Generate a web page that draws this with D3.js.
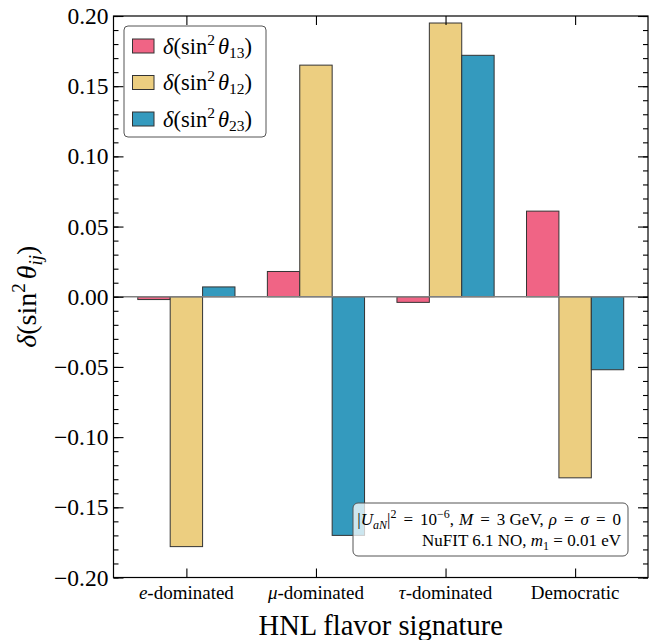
<!DOCTYPE html>
<html>
<head>
<meta charset="utf-8">
<script src="https://cdn.jsdelivr.net/npm/d3@7"></script>
<style>
  body { margin: 0; background: #fff; }
  svg { display: block; font-family: "Liberation Serif", "DejaVu Serif", serif; }
</style>
</head>
<body>
<div id="chart"></div>
<script>
// categories and series values
const categories = ["e-dominated", "μ-dominated", "τ-dominated", "Democratic"];
const sin13 = [-0.002, 0.018, -0.004, 0.061];
const sin12 = [-0.178, 0.165, 0.195, -0.129];
const sin23 = [0.007, -0.170, 0.172, -0.052];
const seriesNames = ["13", "12", "23"];
const seriesColors = ["#F06485", "#ECCE80", "#349ABE"];
const yTicks = [-0.20, -0.15, -0.10, -0.05, 0.00, 0.05, 0.10, 0.15, 0.20];

const width = 652, height = 640;
const plotLeft = 113.5, plotRight = 648, plotTop = 16, plotBottom = 577.5;
const barWidth = 0.25;

const svg = d3.select("#chart").append("svg")
    .attr("width", width)
    .attr("height", height);

const x = d3.scaleLinear().domain([-0.5625, 3.5625]).range([plotLeft, plotRight]);
const y = d3.scaleLinear().domain([-0.2, 0.2]).range([plotBottom, plotTop]);

const series = [sin13, sin12, sin23];

// bars
series.forEach((vals, s) => {
    svg.append("g").selectAll("rect")
        .data(vals)
        .enter().append("rect")
        .attr("x", (d, i) => x(i + (s - 1) * barWidth - barWidth / 2))
        .attr("width", x(barWidth) - x(0))
        .attr("y", d => y(Math.max(0, d)))
        .attr("height", d => Math.abs(y(d) - y(0)))
        .attr("fill", seriesColors[s])
        .attr("stroke", "#333")
        .attr("stroke-width", 1);
});

// zero line
svg.append("line")
    .attr("x1", plotLeft).attr("x2", plotRight)
    .attr("y1", y(0)).attr("y2", y(0))
    .attr("stroke", "#808080")
    .attr("stroke-width", 1.6);

// axes with inward ticks
const fmt = d => (d < 0 ? "\u2212" : "") + Math.abs(d).toFixed(2);
const minor = d3.range(-20, 21).map(v => v / 100);

svg.append("g")
    .attr("transform", `translate(${plotLeft},0)`)
    .call(d3.axisLeft(y).tickValues(minor).tickSize(-5).tickFormat(""))
    .call(g => g.select(".domain").remove());
svg.append("g")
    .attr("transform", `translate(${plotLeft},0)`)
    .call(d3.axisLeft(y).tickValues(yTicks).tickSize(-10).tickPadding(5).tickFormat(fmt))
    .call(g => g.select(".domain").remove())
    .call(g => g.selectAll("text").attr("font-size", 23.5).attr("fill", "#000")
        .attr("font-family", "Liberation Serif, serif"));
svg.append("g")
    .attr("transform", `translate(${plotRight},0)`)
    .call(d3.axisRight(y).tickValues(minor).tickSize(-5).tickFormat(""))
    .call(g => g.select(".domain").remove());
svg.append("g")
    .attr("transform", `translate(${plotRight},0)`)
    .call(d3.axisRight(y).tickValues(yTicks).tickSize(-10).tickFormat(""))
    .call(g => g.select(".domain").remove());

const catIdx = categories.map((c, i) => i);
svg.append("g")
    .attr("transform", `translate(0,${plotBottom})`)
    .call(d3.axisBottom(x).tickValues(catIdx).tickSize(-9).tickFormat(""))
    .call(g => g.select(".domain").remove());
svg.append("g")
    .attr("transform", `translate(0,${plotTop})`)
    .call(d3.axisTop(x).tickValues(catIdx).tickSize(-9).tickFormat(""))
    .call(g => g.select(".domain").remove());
svg.selectAll(".tick line").attr("stroke", "#000").attr("stroke-width", 1.1);

// frame
svg.append("rect")
    .attr("x", plotLeft).attr("y", plotTop)
    .attr("width", plotRight - plotLeft).attr("height", plotBottom - plotTop)
    .attr("fill", "none").attr("stroke", "#000").attr("stroke-width", 1.2);

// category labels, leading greek/latin letter in italics
categories.forEach((c, i) => {
    const t = svg.append("text")
        .attr("x", x(i)).attr("y", 599)
        .attr("text-anchor", "middle")
        .attr("font-size", 19);
    const m = c.match(/^(e|μ|τ)(-.*)$/);
    if (m) {
        t.append("tspan").attr("font-style", "italic").text(m[1]);
        t.append("tspan").text(m[2]);
    } else {
        t.text(c);
    }
});

// axis titles
svg.append("text")
    .attr("x", (plotLeft + plotRight) / 2).attr("y", 635)
    .attr("text-anchor", "middle")
    .attr("font-size", 28.5)
    .text("HNL flavor signature");

const yl = svg.append("text")
    .attr("transform", `translate(36,${(plotTop + plotBottom) / 2}) rotate(-90)`)
    .attr("text-anchor", "middle")
    .attr("font-size", 28);
yl.append("tspan").attr("font-style", "italic").text("δ");
yl.append("tspan").text("(sin");
yl.append("tspan").attr("font-size", 19).attr("dy", -11).text("2");
yl.append("tspan").attr("font-style", "italic").attr("dy", 11).attr("dx", 4).text("θ");
yl.append("tspan").attr("font-style", "italic").attr("font-size", 19).attr("dy", 6).text("ij");
yl.append("tspan").attr("dy", -6).text(")");

// legend
const lg = svg.append("g");
lg.append("rect")
    .attr("x", 124).attr("y", 26).attr("width", 142).attr("height", 111)
    .attr("rx", 4)
    .attr("fill", "#fff").attr("fill-opacity", 0.8)
    .attr("stroke", "#555").attr("stroke-width", 1);
seriesNames.forEach((n, s) => {
    const cy = 46 + s * 36.5;
    lg.append("rect")
        .attr("x", 132.5).attr("y", cy - 7).attr("width", 21.5).attr("height", 14)
        .attr("fill", seriesColors[s]).attr("stroke", "#333").attr("stroke-width", 1);
    const t = lg.append("text")
        .attr("x", 163).attr("y", cy + 7.5)
        .attr("font-size", 22.5);
    t.append("tspan").attr("font-style", "italic").text("δ");
    t.append("tspan").text("(sin");
    t.append("tspan").attr("font-size", 15.5).attr("dy", -9).text("2");
    t.append("tspan").attr("font-style", "italic").attr("dy", 9).attr("dx", 3).text("θ");
    t.append("tspan").attr("font-size", 15.5).attr("dy", 4).text(n);
    t.append("tspan").attr("dy", -4).text(")");
});

// annotation box
const an = svg.append("g");
an.append("rect")
    .attr("x", 353).attr("y", 503).attr("width", 275).attr("height", 53)
    .attr("rx", 5)
    .attr("fill", "#fff").attr("fill-opacity", 0.75)
    .attr("stroke", "#555").attr("stroke-width", 1);

// segments: [text, italic, size, dy, dx]
const line1 = [
    ["|", 0, 17, 0, 0], ["U", 1, 17, 0, 0], ["aN", 1, 12, 4, 0], ["|", 0, 17, -4, 0],
    ["2", 0, 12, -7, 0], ["=", 0, 17, 7, 7], ["10", 0, 17, 0, 7], ["\u22126", 0, 12, -7, 0],
    [",", 0, 17, 7, 0], ["M", 1, 17, 0, 5], ["=", 0, 17, 0, 7], ["3 GeV,", 0, 17, 0, 7],
    ["ρ", 1, 17, 0, 5], ["=", 0, 17, 0, 7], ["σ", 1, 17, 0, 7], ["=", 0, 17, 0, 7],
    ["0", 0, 17, 0, 7]
];
const a1 = an.append("text")
    .attr("x", 621).attr("y", 525)
    .attr("text-anchor", "end");
line1.forEach(s => {
    a1.append("tspan")
        .attr("font-style", s[1] ? "italic" : "normal")
        .attr("font-size", s[2])
        .attr("dy", s[3]).attr("dx", s[4])
        .text(s[0]);
});

const a2 = an.append("text")
    .attr("x", 621).attr("y", 546)
    .attr("text-anchor", "end")
    .attr("font-size", 17);
a2.append("tspan").text("NuFIT 6.1 NO, ");
a2.append("tspan").attr("font-style", "italic").text("m");
a2.append("tspan").attr("font-size", 12).attr("dy", 4).text("1");
a2.append("tspan").attr("dy", -4).text(" = 0.01 eV");
</script>
</body>
</html>
